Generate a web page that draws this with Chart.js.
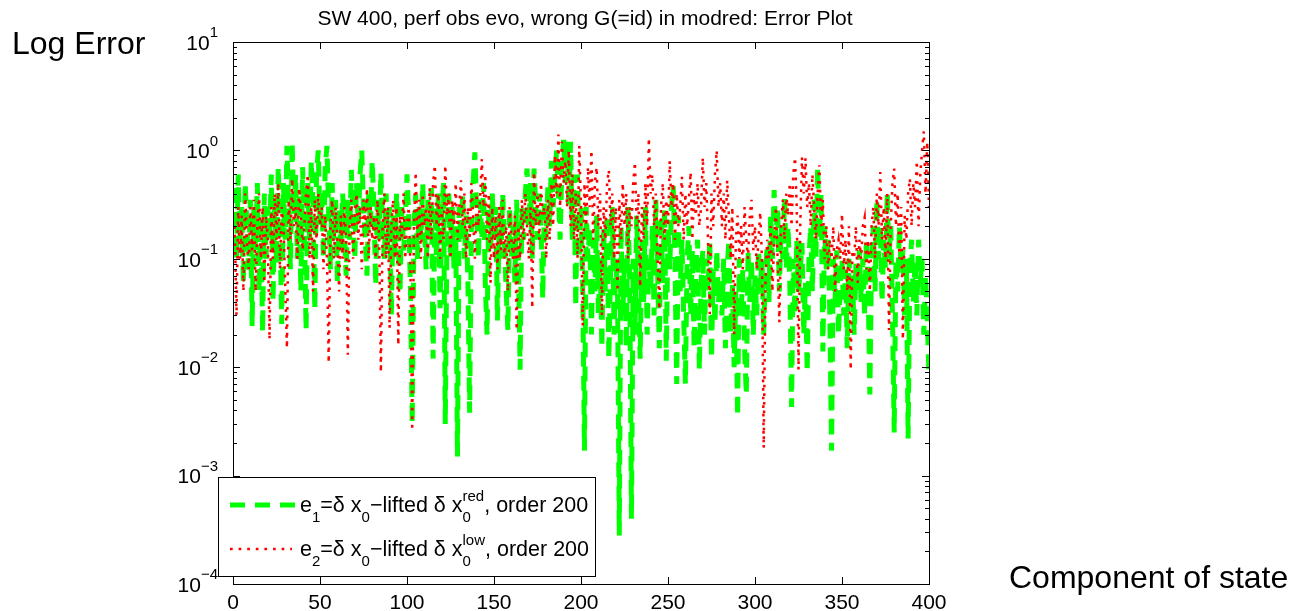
<!DOCTYPE html>
<html>
<head>
<meta charset="utf-8">
<script src="https://cdn.jsdelivr.net/npm/chart.js@4.4.1/dist/chart.umd.min.js"></script>
<style>
  html, body { margin: 0; padding: 0; background: #fff; }
  canvas { display: block; }
</style>
</head>
<body>
<canvas id="errChart" width="1294" height="611"></canvas>
<script>
// error per state component (1..400)
const e1Red = [
  .45,.1,.6,.15,.3,.06,.5,.2,.08,.35,
  .024,.3,.12,.5,.05,.25,.021,.4,.1,.3,
  .15,.6,.04,.35,.09,.7,.2,.025,.5,.15,
  1.1,.3,.08,1.2,.25,.6,.1,.4,.05,.7,
  .2,.022,.5,.15,.8,.3,.034,.6,1.0,.2,
  .4,.1,.7,1.1,.25,.08,.5,.15,.35,.06,
  .3,.12,.4,.2,.07,.35,.15,.66,.25,.1,
  .5,.2,.6,1.0,.3,.15,.07,.4,.2,.8,
  .3,.057,.35,.15,.63,.2,.1,.4,.12,.3,
  .03,.25,.1,.4,.15,.048,.3,.12,.2,.6,
  .25,.05,.003,.2,.4,.1,.3,.15,.5,.2,
  .08,.35,.15,.45,.012,.3,.1,.4,.035,.25,
  .5,.003,.2,.4,.1,.3,.08,.2,.0015,.3,
  .15,.4,.1,.25,.06,.0038,.2,.5,.96,.3,
  .1,.35,.15,.5,.06,.02,.3,.12,.4,.15,
  .3,.027,.25,.1,.4,.15,.05,.022,.3,.1,
  .2,.06,.35,.1,.0095,.3,.15,.4,.68,.2,
  .5,.1,.68,.3,.15,.4,.2,.043,.35,.15,
  .5,.2,.8,.3,.6,1.0,.4,.15,.7,1.25,
  .5,1.2,.3,1.2,.15,.6,.036,.6,.1,.3,
  .05,.0017,.3,.1,.2,.02,.15,.05,.25,.03,
  .1,.015,.2,.05,.25,.012,.08,.3,.02,.1,
  .05,.00028,.2,.03,.1,.015,.3,.06,.0004,.1,
  .02,.25,.06,.012,.15,.04,.3,.02,.1,.05,
  .2,.03,.35,.08,.015,.25,.06,.3,.0115,.2,
  .08,.3,.47,.1,.007,.25,.05,.15,.03,.007,
  .1,.2,.03,.12,.015,.08,.15,.0095,.06,.12,
  .02,.1,.05,.15,.012,.08,.025,.12,.04,.06,
  .03,.1,.015,.08,.15,.02,.06,.01,.05,.0035,
  .1,.03,.08,.015,.0056,.12,.04,.1,.02,.07,
  .03,.12,.05,.1,.02,.08,.13,.04,.25,.1,
  .43,.15,.3,.05,.2,.1,.37,.08,.2,.06,
  .0043,.1,.03,.15,.05,.08,.14,.02,.06,.009,
  .1,.2,.05,.35,.1,.7,.15,.4,.014,.2,
  .08,.15,.03,.0017,.1,.04,.12,.02,.06,.1,
  .03,.08,.015,.1,.04,.07,.02,.09,.05,.12,
  .04,.1,.03,.15,.06,.0056,.1,.2,.05,.35,
  .1,.2,.04,.15,.08,.41,.1,.2,.03,.0025,
  .1,.05,.2,.08,.12,.03,.1,.0022,.08,.15,
  .04,.1,.03,.15,.06,.1,.02,.07,.03,.008
];
const e2Low = [
  .2,.03,.3,.1,.25,.05,.4,.15,.08,.3,
  .12,.35,.05,.2,.4,.1,.3,.06,.25,.15,
  .018,.3,.1,.4,.15,.5,.08,.3,.2,.06,
  .015,.35,.15,.55,.2,.3,.1,.45,.25,.12,
  .2,.4,.6,.1,.3,.05,.35,.15,.4,.2,
  .3,.08,.25,.1,.011,.2,.35,.1,.3,.15,
  .05,.25,.1,.3,.15,.013,.2,.35,.1,.25,
  .4,.15,.3,.08,.35,.2,.45,.1,.3,.15,
  .25,.1,.35,.15,.009,.2,.4,.1,.3,.023,
  .2,.35,.1,.3,.016,.25,.15,.4,.1,.2,
  .3,.08,.0026,.2,.63,.15,.35,.1,.4,.2,
  .3,.1,.45,.15,.5,.73,.2,.4,.1,.3,
  .15,.73,.25,.4,.1,.35,.2,.5,.15,.3,
  .53,.2,.4,.1,.3,.15,.5,.25,.1,.4,
  .2,.35,.83,.3,.6,.15,.4,.06,.3,.1,
  .25,.08,.3,.12,.35,.1,.2,.05,.3,.15,
  .1,.25,.022,.2,.1,.35,.15,.4,.2,.1,
  .3,.035,.63,.2,.4,.15,.5,.25,.3,.1,
  .35,.15,.5,.2,.9,.4,1.4,.3,1.2,.5,
  .8,.3,1.0,.2,.6,.15,.4,.1,1.1,.3,
  .024,.5,.2,.7,.3,1.0,.15,.5,.7,.2,
  .4,.03,.3,.15,.5,.66,.2,.4,.1,.3,
  .05,.35,.15,.5,.2,.4,.1,.3,.2,.5,
  .78,.2,.4,.055,.3,.15,.5,.2,1.3,.4,
  .6,.2,.4,.1,.034,.3,.5,.15,.35,.2,
  .8,.3,.5,.15,.4,.2,.3,.57,.15,.4,
  .2,.35,.63,.15,.4,.25,.5,.2,.3,.86,
  .3,.5,.15,.031,.4,.2,.6,1.0,.3,.5,
  .2,.4,.15,.53,.25,.1,.3,.02,.15,.25,
  .1,.2,.08,.3,.15,.1,.25,.35,.12,.2,
  .08,.15,.27,.1,.0018,.06,.15,.1,.2,.05,
  .15,.3,.1,.026,.2,.35,.15,.4,.25,.5,
  .2,.6,.86,.3,.0095,.2,.86,.4,.85,.3,
  .5,.2,.6,.3,.15,.4,.73,.2,.35,.1,
  .2,.08,.15,.1,.2,.05,.12,.15,.1,.26,
  .08,.15,.05,.2,.0095,.12,.1,.2,.06,.15,
  .1,.2,.24,.08,.15,.05,.2,.3,.1,.4,
  .2,.63,.15,.3,.1,.4,.022,.2,.5,.68,
  .2,.4,.1,.3,.018,.25,.15,.4,.55,.2,
  .5,.3,.8,.2,.6,1.0,1.5,.4,1.2,.3
];
const components = e1Red.map((_, i) => i + 1);
const xTicks = [0, 50, 100, 150, 200, 250, 300, 350, 400];
const yExps = [-4, -3, -2, -1, 0, 1];

const FONT = '"Liberation Sans", Arial, Helvetica, sans-serif';
const GREEN = '#00ff00', RED = '#ff0000';

function toPoints(vals) {
  return vals.map((v, i) => ({ x: components[i], y: v }));
}

// legend text: plain pieces, subscripts, and stacked sup/sub
function drawRich(ctx, x, base, parts) {
  for (const p of parts) {
    if (p.sup !== undefined) {
      ctx.font = '15px ' + FONT;
      ctx.fillText(p.sup, x, base - 11);
      ctx.fillText(p.sub, x, base + 10);
      x += Math.max(ctx.measureText(p.sup).width, ctx.measureText(p.sub).width);
    } else if (p.sub !== undefined) {
      ctx.font = '15px ' + FONT;
      ctx.fillText(p.sub, x, base + 10);
      x += ctx.measureText(p.sub).width;
    } else {
      ctx.font = '21.5px ' + FONT;
      ctx.fillText(p.t, x, base);
      x += ctx.measureText(p.t).width;
    }
  }
}

const matlabAxes = {
  id: 'matlabAxes',
  afterDraw(chart) {
    const { ctx, chartArea: a, scales: { x, y } } = chart;
    ctx.save();
    ctx.strokeStyle = '#000';
    ctx.lineWidth = 1;
    ctx.setLineDash([]);
    ctx.strokeRect(a.left + 0.5, a.top + 0.5, a.right - a.left, a.bottom - a.top);

    // x ticks (inward, bottom and top)
    ctx.fillStyle = '#000';
    ctx.font = '21px ' + FONT;
    ctx.textAlign = 'center';
    ctx.textBaseline = 'middle';
    ctx.beginPath();
    xTicks.forEach(t => {
      const px = Math.round(x.getPixelForValue(t)) + 0.5;
      ctx.moveTo(px, a.bottom); ctx.lineTo(px, a.bottom - 7);
      ctx.moveTo(px, a.top); ctx.lineTo(px, a.top + 7);
    });
    // y ticks, major + minor
    yExps.forEach(e => {
      const py = Math.round(y.getPixelForValue(Math.pow(10, e))) + 0.5;
      ctx.moveTo(a.left, py); ctx.lineTo(a.left + 7, py);
      ctx.moveTo(a.right, py); ctx.lineTo(a.right - 7, py);
      if (e < 1) {
        for (let k = 2; k <= 9; k++) {
          const my = Math.round(y.getPixelForValue(k * Math.pow(10, e))) + 0.5;
          ctx.moveTo(a.left, my); ctx.lineTo(a.left + 4, my);
          ctx.moveTo(a.right, my); ctx.lineTo(a.right - 4, my);
        }
      }
    });
    ctx.stroke();

    xTicks.forEach(t => ctx.fillText(String(t), x.getPixelForValue(t), a.bottom + 19));

    // y tick labels 10^e
    ctx.textAlign = 'left';
    yExps.forEach(e => {
      const py = y.getPixelForValue(Math.pow(10, e));
      const ex = e < 0 ? '\u2212' + (-e) : String(e);
      ctx.font = '15px ' + FONT;
      const we = ctx.measureText(ex).width;
      ctx.font = '21px ' + FONT;
      const wb = ctx.measureText('10').width;
      const right = a.left - 15;
      ctx.fillText('10', right - we - wb, py + 2);
      ctx.font = '15px ' + FONT;
      ctx.fillText(ex, right - we, py - 9);
    });

    // title and axis labels
    ctx.font = '21px ' + FONT;
    ctx.textAlign = 'center';
    ctx.fillText('SW 400, perf obs evo, wrong G(=id) in modred: Error Plot', (a.left + a.right) / 2 + 4, 19);
    ctx.font = '32px ' + FONT;
    ctx.textAlign = 'left';
    ctx.fillText('Log Error', 12, 45);
    ctx.fillText('Component of state', 1009, 579);

    // legend box
    const lx = 218, ly = 477, lw = 377, lh = 99;
    ctx.fillStyle = '#fff';
    ctx.fillRect(lx, ly, lw, lh);
    ctx.strokeRect(lx + 0.5, ly + 0.5, lw, lh);

    ctx.lineCap = 'butt';
    ctx.strokeStyle = GREEN;
    ctx.lineWidth = 5;
    ctx.setLineDash([15, 10]);
    ctx.beginPath(); ctx.moveTo(230, 505); ctx.lineTo(295, 505); ctx.stroke();
    ctx.strokeStyle = RED;
    ctx.lineWidth = 2.5;
    ctx.setLineDash([2.7, 5.9]);
    ctx.beginPath(); ctx.moveTo(230, 549); ctx.lineTo(292, 549); ctx.stroke();

    ctx.fillStyle = '#000';
    ctx.textBaseline = 'alphabetic';
    drawRich(ctx, 300, 512, [
      { t: 'e' }, { sub: '1' }, { t: '=\u03b4 x' }, { sub: '0' }, { t: '\u2212lifted \u03b4 x' },
      { sup: 'red', sub: '0' }, { t: ', order 200' }
    ]);
    drawRich(ctx, 300, 556, [
      { t: 'e' }, { sub: '2' }, { t: '=\u03b4 x' }, { sub: '0' }, { t: '\u2212lifted \u03b4 x' },
      { sup: 'low', sub: '0' }, { t: ', order 200' }
    ]);
    ctx.restore();
  }
};

new Chart(document.getElementById('errChart').getContext('2d'), {
  type: 'line',
  data: {
    datasets: [{
      label: 'e1',
      data: toPoints(e1Red),
      borderColor: GREEN,
      borderWidth: 5,
      borderDash: [15, 9],
      borderCapStyle: 'butt',
      pointRadius: 0,
      tension: 0,
      order: 2
    }, {
      label: 'e2',
      data: toPoints(e2Low),
      borderColor: RED,
      borderWidth: 2.5,
      borderDash: [2.7, 5.9],
      borderCapStyle: 'butt',
      pointRadius: 0,
      tension: 0,
      order: 1
    }]
  },
  options: {
    responsive: false,
    animation: false,
    devicePixelRatio: 1,
    layout: { padding: { left: 233, right: 365, top: 42, bottom: 27 } },
    plugins: { legend: { display: false }, tooltip: { enabled: false } },
    scales: {
      x: { type: 'linear', min: 0, max: 400, display: false },
      y: { type: 'logarithmic', min: 1e-4, max: 10, display: false }
    }
  },
  plugins: [matlabAxes]
});
</script>
</body>
</html>
